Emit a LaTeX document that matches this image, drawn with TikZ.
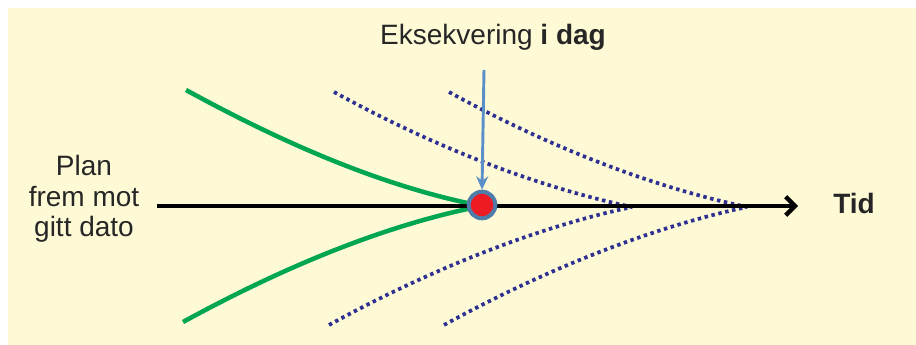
\documentclass[tikz,border=0pt]{standalone}
\usepackage{fontspec}
\setmainfont{Liberation Sans}
\usepackage{tikz}
\usetikzlibrary{positioning, arrows.meta}
\usepackage{xcolor}

\definecolor{bgyellow}{RGB}{255,250,214}
\definecolor{plangreen}{RGB}{0,166,81}
\definecolor{dotnavy}{RGB}{46,49,146}
\definecolor{todayblue}{RGB}{91,143,201}
\definecolor{ringblue}{RGB}{79,125,170}
\definecolor{nowred}{RGB}{237,28,36}

\begin{document}
\begin{tikzpicture}[
	x=0.75pt, y=-0.75pt,
	lbl/.style={font=\fontsize{21}{23}\selectfont, text=black!85, align=center, inner sep=0pt},
	axis/.style={line width=3.4pt, -{Straight Barb[length=7pt, width=14pt, line width=3.2pt]}},
	plan/.style={line width=3.4pt, plangreen},
	alt/.style={line width=2.8pt, dotnavy, dash pattern=on 2.6pt off 2.7pt},
	marker/.style={line width=2.2pt, todayblue, -{Stealth[length=10pt, width=9pt]}},
	dot/.style={circle, draw=ringblue, fill=nowred, line width=3pt, minimum size=20pt, inner sep=0pt}
]
	\useasboundingbox (0,0) rectangle (916,345);
	\fill[bgyellow] (8,8) rectangle (916,345);

	\node[lbl] (plan) at (84,199) {Plan\\frem mot\\gitt dato};
	\node[lbl, font=\fontsize{21}{23}\selectfont\bfseries, anchor=west] (tid) at (833,203) {Tid};
	\node[lbl] (idag) at (493,37) {Eksekvering \textbf{i dag}};

	\coordinate (ax0) at (157,206);
	\coordinate (ax1) at (798,206);
	\coordinate (meet1) at (632,207);
	\coordinate (meet2) at (747,207);

	% plan curves
	\draw[plan] (186,90) .. controls +(95,52) and +(-95,-20) .. (472,204);
	\draw[plan] (183,322) .. controls +(95,-52) and +(-95,20) .. (472,208);

	% alternative paths
	\draw[alt] (334,92) .. controls +(100,55) and +(-95,-20) .. (meet1);
	\draw[alt] (329,325) .. controls +(100,-55) and +(-95,20) .. (meet1);
	\draw[alt] (449,92) .. controls +(100,55) and +(-95,-20) .. (meet2);
	\draw[alt] (444,325) .. controls +(100,-55) and +(-95,20) .. (meet2);

	\draw[axis] (ax0) -- (ax1);
	\node[dot] (now) at (482,205) {};

	\draw[marker] (484,70) -- (now.north);
\end{tikzpicture}
\end{document}
